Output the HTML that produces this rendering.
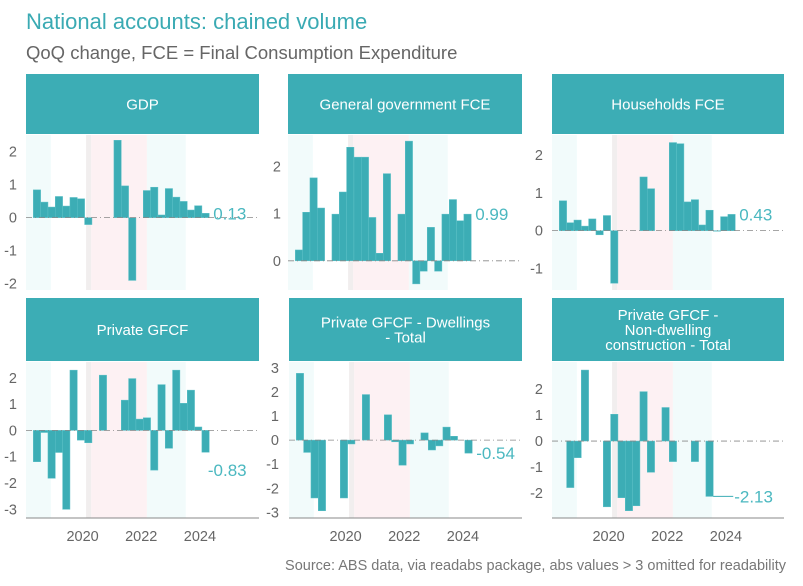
<!DOCTYPE html>
<html><head><meta charset="utf-8">
<style>
body{margin:0;background:#fff;}
svg{display:block;font-family:"Liberation Sans",Arial,sans-serif;}
</style></head>
<body>
<svg id="chart" width="803" height="586" viewBox="0 0 803 586" xmlns="http://www.w3.org/2000/svg">
<text x="26" y="29" font-size="22" fill="#3aaab3">National accounts: chained volume</text>
<text x="26" y="59" font-size="18.5" fill="#666">QoQ change, FCE = Final Consumption Expenditure</text>
<text x="786" y="570" font-size="14.5" fill="#777" text-anchor="end">Source: ABS data, via readabs package, abs values &gt; 3 omitted for readability</text>
<g id="panels"></g>
</svg>
<script>
const quarters = ["2018Q2","2018Q3","2018Q4","2019Q1","2019Q2","2019Q3","2019Q4","2020Q1","2020Q2","2020Q3","2020Q4","2021Q1","2021Q2","2021Q3","2021Q4","2022Q1","2022Q2","2022Q3","2022Q4","2023Q1","2023Q2","2023Q3","2023Q4","2024Q1"];
const yearTicks = [2020, 2022, 2024];
const gdp = [0.84,0.47,0.32,0.64,0.35,0.61,0.57,-0.21,null,null,null,2.34,0.96,-1.9,null,0.82,0.92,0.08,0.88,0.62,0.49,0.23,0.36,0.13];
const govFce = [0.23,1.03,1.76,1.12,null,0.99,1.46,2.41,2.2,2.2,0.92,0.16,1.85,null,0.99,2.54,-0.49,-0.22,0.71,-0.22,0.99,1.3,0.85,0.99];
const hhFce = [0.79,0.21,0.28,0.12,0.31,-0.11,0.40,-1.39,null,null,null,1.42,1.11,null,null,2.33,2.3,0.76,0.82,0.15,0.54,0.0,0.37,0.43];
const privGfcf = [-1.19,-0.08,-1.82,-0.84,-3.0,2.29,-0.37,-0.47,null,2.1,null,null,1.15,1.97,0.43,0.48,-1.51,1.74,-0.68,2.29,1.03,1.53,0.13,-0.83];
const dwellings = [2.77,-0.51,-2.4,-2.93,null,null,-2.4,-0.16,null,1.89,null,null,1.05,-0.07,-1.04,-0.16,null,0.3,-0.41,-0.24,0.54,0.16,null,-0.54];
const nonDwelling = [null,-1.79,-0.64,2.73,null,null,-2.53,1.03,-2.18,-2.68,-2.49,1.9,-1.2,null,1.29,-0.79,null,null,-0.79,null,-2.13,null,null,null];
const panelTicks = [[-2,-1,0,1,2],[0,1,2],[-1,0,1,2],[-3,-2,-1,0,1,2],[-3,-2,-1,0,1,2,3],[-2,-1,0,1,2]];
const series = [gdp, govFce, hhFce, privGfcf, dwellings, nonDwelling];

const layout = [
 {x0:26,x1:259,top:135,bot:290,sTop:74,yMin:-2.19,yMax:2.5,lab:17,strip:["GDP"]},
 {x0:288,x1:522,top:135,bot:290,sTop:74,yMin:-0.62,yMax:2.67,lab:281,strip:["General government FCE"]},
 {x0:552,x1:784,top:135,bot:290,sTop:74,yMin:-1.57,yMax:2.53,lab:543,strip:["Households FCE"]},
 {x0:26,x1:259,top:362,bot:518,sTop:298,yMin:-3.33,yMax:2.6,lab:17,strip:["Private GFCF"],axis:true},
 {x0:289,x1:522,top:362,bot:518,sTop:298,yMin:-3.23,yMax:3.24,lab:279,strip:["Private GFCF - Dwellings","- Total"],axis:true},
 {x0:552,x1:784,top:362,bot:518,sTop:298,yMin:-2.96,yMax:3.04,lab:543,strip:["Private GFCF -","Non-dwelling","construction - Total"],axis:true,seg:true}
];
const NS="http://www.w3.org/2000/svg";
const root=document.getElementById('panels');
function mk(tag,attrs,parent){const e=document.createElementNS(NS,tag);for(const k in attrs)e.setAttribute(k,attrs[k]);parent.appendChild(e);return e;}
const BW=7.33;
layout.forEach((L,p)=>{
  const g=mk('g',{},root);
  
  
  const data=series[p];
  const xL=i=>L.x0+7.3+i*BW;
  const xq=q=>L.x0+7.3+q*BW;
  const y=v=>L.top+(L.yMax-v)/(L.yMax-L.yMin)*(L.bot-L.top);
  const shades=[[-1,2.4,'#f2fbfb'],[7.2,7.9,'#f1eeee'],[7.9,15.5,'#fdf1f3'],[15.5,20.8,'#f2fbfb']];
  shades.forEach(s=>{
    const x0=Math.max(L.x0,xq(s[0]));
    const r=mk('rect',{x:x0,y:L.top,width:xq(s[1])-x0,height:L.bot-L.top,fill:s[2]},g);
    
    
  });
  const st=mk('rect',{x:L.x0,y:L.sTop,width:L.x1-L.x0,height:(L.top-L.sTop)-1,fill:'#3cadb5'},g);
  
  
  const cy=(L.sTop+L.top)/2, n=L.strip.length;
  L.strip.forEach((t,k)=>{
    const tx=mk('text',{x:(L.x0+L.x1)/2,y:cy+5+(k-(n-1)/2)*15,'font-size':15,fill:'#fff','text-anchor':'middle'},g);
    tx.textContent=t;
    
    
  });
  panelTicks[p].forEach(v=>{
    const t=mk('text',{x:L.lab,y:y(v)+5,'font-size':14.5,fill:'#666','text-anchor':'end'},g);
    t.textContent=v;
    
    
  });
  let last=-1;
  data.forEach((v,i)=>{
    if(v===null)return;
    last=i;
    const y0=y(0),y1=y(v);
    const b=mk('rect',{x:xL(i),y:Math.min(y0,y1),width:BW,height:Math.max(0.6,Math.abs(y1-y0)),fill:'#3cadb5',stroke:'#5cc0c7','stroke-width':0.5},g);
    
    
  });
  const zl=mk('line',{x1:L.x0,x2:L.x1,y1:y(0),y2:y(0),stroke:'#888','stroke-width':0.8,'stroke-dasharray':'6,3,1,3'},g);
  
  
  const lv=data[last];
  let lx=xL(last)+BW+4, ly=y(lv)+6;
  if(L.seg){
    const sg=mk('line',{x1:xL(last)+BW,x2:xL(last)+BW+20,y1:y(lv),y2:y(lv),stroke:'#3cadb5','stroke-width':1},g);
    
    
    lx=xL(last)+BW+21;
  } else if(lv<-0.7){ ly=y(lv)+24; lx=xL(last)+6; }
  const lt=mk('text',{x:lx,y:ly,'font-size':17,fill:'#4bb8c0'},g);
  lt.textContent=lv.toFixed(2);
  
  
  if(L.axis){
    const ax=mk('line',{x1:L.x0,x2:L.x1,y1:L.bot,y2:L.bot,stroke:'#888','stroke-width':1},g);
    
    
    yearTicks.forEach(yr=>{
      const qi=quarters.indexOf(yr+'Q1');
      const t=mk('text',{x:xL(qi)-2,y:L.bot+23,'font-size':14.5,fill:'#666','text-anchor':'middle'},g);
      t.textContent=yr;
      
      
    });
  }
});
</script>
</body></html>
